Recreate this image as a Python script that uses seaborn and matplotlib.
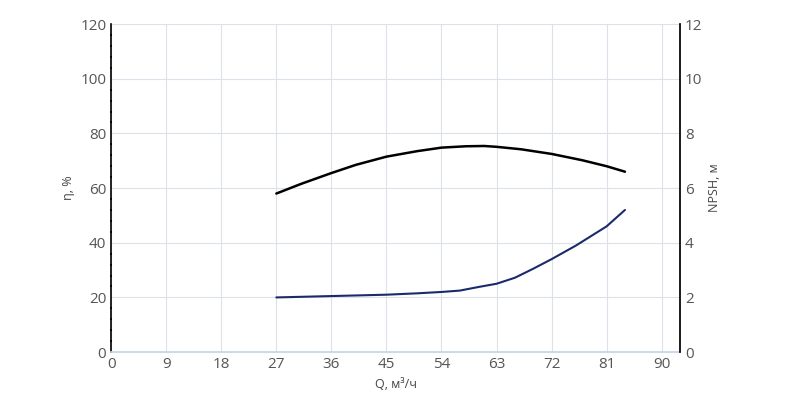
import matplotlib
matplotlib.use("Agg")
import matplotlib.pyplot as plt
from matplotlib.ticker import MultipleLocator
import seaborn as sns
import pandas as pd

# Efficiency curve, %
q_eff = [27, 31, 36, 40, 45, 50, 54, 58, 61, 63, 67, 72, 77, 81, 84]
eff = [58, 61.5, 65.5, 68.5, 71.5, 73.5, 74.8, 75.3, 75.4, 75.1, 74.2, 72.5, 70.2, 68, 66]

# NPSH curve, m
q_npsh = [27, 36, 45, 50, 54, 57, 60, 63, 66, 69, 72, 76, 81, 84]
npsh = [2.0, 2.05, 2.1, 2.15, 2.2, 2.25, 2.38, 2.5, 2.72, 3.05, 3.4, 3.9, 4.6, 5.2]

sns.set_theme(style="white")
plt.rcParams["font.family"] = ["Open Sans", "DejaVu Sans"]

fig, ax = plt.subplots(figsize=(8, 4.08), dpi=100)
fig.subplots_adjust(left=0.139, right=0.85, top=0.941, bottom=0.137)

sns.lineplot(data=pd.DataFrame({"q": q_eff, "eff": eff}), x="q", y="eff",
             ax=ax, color="black", lw=1.8)
ax.set_xlim(0, 93)
ax.set_ylim(0, 120)
ax.xaxis.set_major_locator(MultipleLocator(9))
ax.yaxis.set_major_locator(MultipleLocator(20))
ax.yaxis.set_minor_locator(MultipleLocator(4))
ax.grid(True, color="#dde1ea", lw=0.8)
ax.set_xlabel("Q, м³/ч", fontsize=9, color="#444")
ax.set_ylabel("η, %", fontsize=9, color="#444")
ax.tick_params(axis="both", labelsize=11, colors="#555", length=0)
ax.tick_params(axis="y", which="minor", length=2, width=1.2, color="black", direction="inout", left=True)
for s in ["top", "right"]:
    ax.spines[s].set_visible(False)
ax.spines["left"].set_color("black")
ax.spines["left"].set_linewidth(1.2)
ax.spines["bottom"].set_color("#c5d3ee")

ax2 = ax.twinx()
sns.lineplot(data=pd.DataFrame({"q": q_npsh, "npsh": npsh}), x="q", y="npsh",
             ax=ax2, color="#1b2a6b", lw=1.5)
ax2.set_ylim(0, 12)
ax2.yaxis.set_major_locator(MultipleLocator(2))
ax2.set_ylabel("NPSH, м", fontsize=9, color="#444")
ax2.tick_params(axis="y", labelsize=11, colors="#555", length=0)
ax2.grid(False)
for s in ["top", "left", "bottom"]:
    ax2.spines[s].set_visible(False)
ax2.spines["right"].set_color("black")

fig.savefig("out.png", dpi=100)
